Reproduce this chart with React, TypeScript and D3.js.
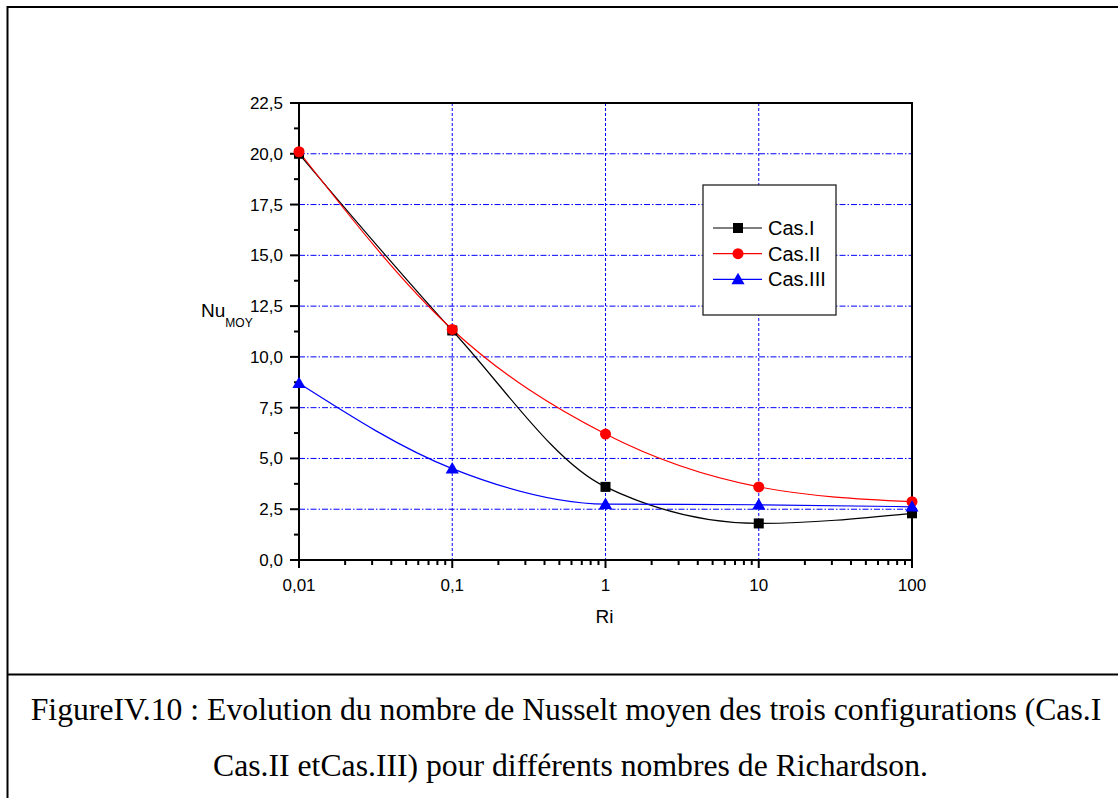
import React from "react";
import * as d3 from "d3";

// Richardson numbers (log axis) and mean Nusselt number per configuration
const riValues = [0.01, 0.1, 1, 10, 100];
const casI = [20.0, 11.3, 3.6, 1.8, 2.3];
const casII = [20.1, 11.35, 6.2, 3.6, 2.87];
const casIII = [8.7, 4.5, 2.75, 2.72, 2.62];

const yMajorTicks = [0, 2.5, 5, 7.5, 10, 12.5, 15, 17.5, 20, 22.5];
const yMinorTicks = [1.25, 3.75, 6.25, 8.75, 11.25, 13.75, 16.25, 18.75, 21.25];
const xMajorTicks = [0.01, 0.1, 1, 10, 100];
const xTickLabels = ["0,01", "0,1", "1", "10", "100"];
const legendNames = ["Cas.I", "Cas.II", "Cas.III"];

const captionLine1 =
  "FigureIV.10 : Evolution du nombre de Nusselt moyen des trois configurations (Cas.I";
const captionLine2 = "Cas.II etCas.III) pour différents nombres de Richardson.";

const W = 1118;
const H = 798;
const plot = { left: 299, right: 912, top: 103, bottom: 560 };

const x = d3.scaleLog().domain([0.01, 100]).range([plot.left, plot.right]);
const y = d3.scaleLinear().domain([0, 22.5]).range([plot.bottom, plot.top]);

const sans = "'Liberation Sans', Arial, sans-serif";
const serif = "'Liberation Serif', 'Times New Roman', serif";

type Series = { name: string; values: number[]; color: string; marker: "square" | "circle" | "triangle" };
const series: Series[] = [
  { name: legendNames[0], values: casI, color: "#000000", marker: "square" },
  { name: legendNames[1], values: casII, color: "#ff0000", marker: "circle" },
  { name: legendNames[2], values: casIII, color: "#0000ff", marker: "triangle" },
];

function Marker({ kind, cx, cy, color }: { kind: string; cx: number; cy: number; color: string }) {
  if (kind === "square") return <rect x={cx - 5} y={cy - 5} width={10} height={10} fill={color} />;
  if (kind === "circle") return <circle cx={cx} cy={cy} r={5.5} fill={color} />;
  const s = d3.symbol(d3.symbolTriangle, 75)();
  return <path d={s || ""} transform={`translate(${cx},${cy + 1})`} fill={color} />;
}

export default function App() {
  const line = d3
    .line<[number, number]>()
    .x((d) => x(d[0]))
    .y((d) => y(d[1]))
    .curve(d3.curveMonotoneX);

  const minorX: number[] = [];
  for (let dec = 0.01; dec < 100; dec *= 10) {
    for (let k = 2; k <= 9; k++) minorX.push(dec * k);
  }

  const legend = { x: 703, y: 185, w: 133, h: 130 };

  return (
    <svg
      width={W}
      height={H}
      style={{ position: "absolute", left: 0, top: 0, background: "#fff" }}
    >
      <rect x={0} y={0} width={W} height={H} fill="#fff" />
      {/* outer frame and caption divider */}
      <rect x={7.5} y={7} width={W + 20} height={H + 20} fill="none" stroke="#000" strokeWidth={2} />
      <line x1={7} x2={W} y1={674.5} y2={674.5} stroke="#000" strokeWidth={2} />

      {/* grid */}
      {yMajorTicks
        .filter((v) => v > 0 && v < 22.5)
        .map((v) => (
          <line
            key={"gy" + v}
            x1={plot.left}
            x2={plot.right}
            y1={y(v)}
            y2={y(v)}
            stroke="#0000ff"
            strokeWidth={1}
            strokeDasharray="6,2,1.5,2"
          />
        ))}
      {[0.1, 1, 10].map((v) => (
        <line
          key={"gx" + v}
          x1={x(v)}
          x2={x(v)}
          y1={plot.top}
          y2={plot.bottom}
          stroke="#0000ff"
          strokeWidth={1}
          strokeDasharray="3,2"
        />
      ))}

      {/* plot frame */}
      <rect
        x={plot.left}
        y={plot.top}
        width={plot.right - plot.left}
        height={plot.bottom - plot.top}
        fill="none"
        stroke="#000"
        strokeWidth={2}
      />

      {/* y ticks */}
      {yMajorTicks.map((v) => (
        <g key={"ty" + v}>
          <line x1={plot.left - 9} x2={plot.left} y1={y(v)} y2={y(v)} stroke="#000" strokeWidth={2} />
          <text
            x={plot.left - 16}
            y={y(v)}
            dy="0.35em"
            textAnchor="end"
            fontFamily={sans}
            fontSize={17}
          >
            {d3.format(".1f")(v).replace(".", ",")}
          </text>
        </g>
      ))}
      {yMinorTicks.map((v) => (
        <line key={"my" + v} x1={plot.left - 5} x2={plot.left} y1={y(v)} y2={y(v)} stroke="#000" strokeWidth={2} />
      ))}

      {/* x ticks */}
      {xMajorTicks.map((v, i) => (
        <g key={"tx" + v}>
          <line x1={x(v)} x2={x(v)} y1={plot.bottom} y2={plot.bottom + 8} stroke="#000" strokeWidth={2} />
          <text x={x(v)} y={plot.bottom + 31} textAnchor="middle" fontFamily={sans} fontSize={17}>
            {xTickLabels[i]}
          </text>
        </g>
      ))}
      {minorX.map((v) => (
        <line key={"mx" + v} x1={x(v)} x2={x(v)} y1={plot.bottom} y2={plot.bottom + 5} stroke="#000" strokeWidth={2} />
      ))}

      {/* axis titles */}
      <text x={604.5} y={623} textAnchor="middle" fontFamily={sans} fontSize={19}>
        Ri
      </text>
      <text x={201} y={317} fontFamily={sans} fontSize={19}>
        Nu
        <tspan fontSize={12} dy={10}>
          MOY
        </tspan>
      </text>

      {/* curves */}
      {series.map((s) => (
        <path
          key={"l" + s.name}
          d={line(riValues.map((r, i) => [r, s.values[i]] as [number, number])) || ""}
          fill="none"
          stroke={s.color}
          strokeWidth={1.2}
        />
      ))}
      {series.map((s) =>
        riValues.map((r, i) => (
          <Marker key={s.name + r} kind={s.marker} cx={x(r)} cy={y(s.values[i])} color={s.color} />
        ))
      )}

      {/* legend */}
      <rect
        x={legend.x}
        y={legend.y}
        width={legend.w}
        height={legend.h}
        fill="#fff"
        stroke="#222"
        strokeWidth={1.3}
      />
      {series.map((s, i) => {
        const ly = 228 + i * 25.7;
        return (
          <g key={"lg" + s.name}>
            <line x1={713} x2={762} y1={ly} y2={ly} stroke={s.color} strokeWidth={1.2} />
            <Marker kind={s.marker} cx={738} cy={ly} color={s.color} />
            <text x={768} y={ly} dy="0.35em" fontFamily={sans} fontSize={20}>
              {s.name}
            </text>
          </g>
        );
      })}

      {/* caption */}
      <text x={566} y={720} textAnchor="middle" fontFamily={serif} fontSize={31.7}>
        {captionLine1}
      </text>
      <text x={570.5} y={776} textAnchor="middle" fontFamily={serif} fontSize={31.7}>
        {captionLine2}
      </text>
    </svg>
  );
}
